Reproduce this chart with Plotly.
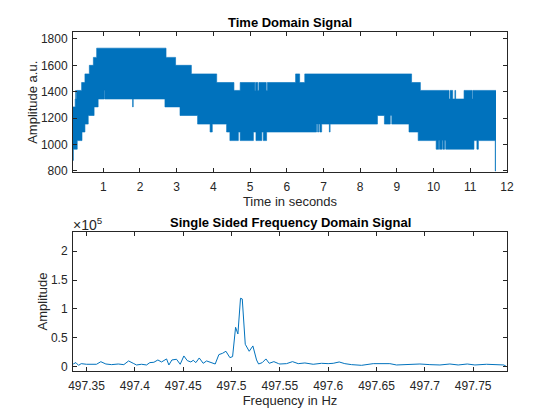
import plotly.graph_objects as go

# Time domain signal: upper and lower envelope of the dense trace (step edges)
upper_time = [0.175, 0.235, 0.25, 0.26, 0.275, 0.29, 0.41, 0.5, 0.62, 0.73, 0.82, 2.71, 2.97, 3.4, 4.09, 4.56, 4.73,
              5.13, 5.15, 5.21, 5.24, 5.44, 5.47, 6.24, 6.35, 6.49, 9.4, 9.64,
              10.42, 10.45, 10.52, 10.58, 10.6, 10.83, 11.05, 11.07, 11.68, 11.7]
upper_vals = [1285, 1345, 1410, 1345, 1410, 1410, 1470, 1535, 1600, 1660, 1730, 1660, 1600, 1535, 1470, 1410, 1470,
              1410, 1470, 1410, 1470, 1410, 1470, 1535, 1470, 1535, 1470, 1410,
              1345, 1410, 1345, 1410, 1345, 1410, 1345, 1410, 1410, 1410]
lower_time = [0.175, 0.185, 0.29, 0.42, 0.5, 0.59, 0.75, 0.86, 1.03, 1.045, 1.8, 1.815, 2.68, 2.71, 3.09, 3.57, 3.91, 3.97,
              4.36, 4.45, 4.68, 4.73, 5.09, 5.16, 5.32, 5.36, 5.45, 6.81, 6.84, 6.87, 6.9, 6.95, 6.97, 7.16, 7.18,
              8.47, 8.66, 8.82, 8.86, 9.33, 9.58, 10.05, 10.07, 10.14, 10.16, 10.23, 10.25, 10.3, 10.33, 10.37,
              11.1, 11.18, 11.22, 11.68, 11.695, 11.7]
lower_vals = [880, 965, 1030, 1095, 1155, 1220, 1285, 1345, 1410, 1345, 1285, 1345, 1285, 1285, 1220, 1155, 1095, 1155,
              1095, 1030, 1095, 1030, 1095, 1030, 1095, 1030, 1095, 1155, 1095, 1155, 1095, 1155, 1155, 1095, 1155,
              1220, 1155, 1220, 1155, 1095, 1030, 1030, 965, 1030, 965, 1030, 965, 1030, 965, 965,
              1030, 965, 1030, 800, 800, 800]

# Frequency domain signal
freq_hz = [497.3362, 497.339, 497.3417, 497.3445, 497.35, 497.3552, 497.3603, 497.3648, 497.37, 497.3759,
           497.3828, 497.3886, 497.3935, 497.3983, 497.4017, 497.4069, 497.4121, 497.4155, 497.4197, 497.4238,
           497.4276, 497.4328, 497.4352, 497.4383, 497.4431, 497.4469, 497.4507, 497.4542, 497.4579, 497.4604,
           497.4631, 497.4666, 497.4707, 497.4742, 497.479, 497.4831, 497.4869, 497.4907, 497.4942, 497.4983,
           497.5011, 497.5042, 497.5066, 497.5093, 497.5111, 497.5142, 497.5183, 497.5221, 497.5259, 497.528,
           497.5318, 497.5356, 497.539, 497.5438, 497.5487, 497.55, 497.5569, 497.5631, 497.569, 497.5759,
           497.5845, 497.5931, 497.6, 497.6052, 497.6114, 497.6172, 497.6242, 497.6345, 497.6466, 497.6552,
           497.6638, 497.6707, 497.6828, 497.6949, 497.7052, 497.7156, 497.7259, 497.7345, 497.7439, 497.7518,
           497.7638, 497.7742, 497.7818, 497.7846]
amp_1e5 = [0.04, 0.064, 0.017, 0.046, 0.035, 0.04, 0.035, 0.08, 0.04, 0.029,
           0.04, 0.029, 0.093, 0.052, 0.023, 0.035, 0.023, 0.064, 0.07, 0.11,
           0.075, 0.128, 0.023, 0.11, 0.122, 0.035, 0.18, 0.099, 0.075, 0.104,
           0.064, 0.145, 0.052, 0.093, 0.07, 0.04, 0.203, 0.226, 0.261, 0.151,
           0.168, 0.678, 0.562, 1.183, 1.171, 0.383, 0.261, 0.354, 0.11, 0.04,
           0.064, 0.128, 0.052, 0.081, 0.046, 0.04, 0.046, 0.081, 0.046, 0.058,
           0.035, 0.052, 0.046, 0.052, 0.075, 0.046, 0.029, 0.017, 0.046, 0.04,
           0.046, 0.023, 0.029, 0.04, 0.029, 0.023, 0.04, 0.023, 0.04, 0.023,
           0.035, 0.035, 0.023, -0.006]

time_ticks = [1, 2, 3, 4, 5, 6, 7, 8, 9, 10, 11, 12]
top_y_ticks = [800, 1000, 1200, 1400, 1600, 1800]
freq_ticks = [497.35, 497.4, 497.45, 497.5, 497.55, 497.6, 497.65, 497.7, 497.75]
freq_labels = ["497.35", "497.4", "497.45", "497.5", "497.55", "497.6", "497.65", "497.7", "497.75"]
amp_ticks = [0, 0.5, 1, 1.5, 2]
amp_labels = ["0", "0.5", "1", "1.5", "2"]

BLUE = "#0072BD"
INK = "#262626"
FONT = "Liberation Sans"
W, H = 560, 420
PAGE = 8  # the page's own body margin shifts the figure by this many pixels


def px(v):
    return (v - PAGE) / W


def py(v):
    return 1 - (v - PAGE) / H


fig = go.Figure()
fig.add_trace(go.Scatter(x=lower_time, y=lower_vals, mode="lines", line=dict(color=BLUE, width=0.6, shape="hv"),
                         xaxis="x", yaxis="y", hoverinfo="skip"))
fig.add_trace(go.Scatter(x=upper_time, y=upper_vals, mode="lines", line=dict(color=BLUE, width=0.6, shape="hv"),
                         fill="tonexty", fillcolor=BLUE, xaxis="x", yaxis="y", hoverinfo="skip"))
fig.add_trace(go.Scatter(x=freq_hz, y=amp_1e5, mode="lines", line=dict(color=BLUE, width=1),
                         xaxis="x2", yaxis="y2"))


def axis(**kw):
    base = dict(showgrid=False, zeroline=False, showline=True, linecolor=INK, linewidth=1, mirror="ticks",
                ticks="inside", ticklen=4, tickcolor=INK, tickwidth=1,
                tickfont=dict(family=FONT, size=12, color=INK), automargin=False)
    base.update(kw)
    return base


def label(text, size=13):
    return dict(text=text, font=dict(family=FONT, size=size, color=INK))


fig.update_layout(
    width=W, height=H, margin=dict(l=0, r=0, t=0, b=0), paper_bgcolor="white", plot_bgcolor="white",
    showlegend=False,
    xaxis=axis(domain=[px(73), px(507)], anchor="y", range=[0.175, 12], tickmode="array", tickvals=time_ticks,
               ticklabelstandoff=3, title={**label("Time in seconds"), "standoff": 4}),
    yaxis=axis(domain=[py(172.3), py(32.3)], anchor="x", range=[790, 1850], tickmode="array",
               tickvals=top_y_ticks, ticklabelstandoff=2, title={**label("Amplitude a.u."), "standoff": 0}),
    xaxis2=axis(domain=[px(73), px(507)], anchor="y2", range=[497.336, 497.785], tickmode="array",
                tickvals=freq_ticks, ticktext=freq_labels, ticklabelstandoff=3,
                title={**label("Frequency in Hz"), "standoff": 4}),
    yaxis2=axis(domain=[py(371.3), py(231.7)], anchor="x2", range=[-0.087, 2.34], tickmode="array",
                tickvals=amp_ticks, ticktext=amp_labels, ticklabelstandoff=2,
                title={**label("Amplitude"), "standoff": 0}),
    annotations=[
        dict(text="<b>Time Domain Signal</b>", x=px(290), y=py(22.5), xref="paper", yref="paper", showarrow=False,
             xanchor="center", yanchor="middle", font=dict(family=FONT, size=13, color="#000000")),
        dict(text="<b>Single Sided Frequency Domain Signal</b>", x=px(290), y=py(222), xref="paper", yref="paper",
             showarrow=False, xanchor="center", yanchor="middle", font=dict(family=FONT, size=13, color="#000000")),
        dict(text="×10<sup>5</sup>", x=px(73), y=py(224), xref="paper", yref="paper", showarrow=False,
             xanchor="left", yanchor="middle", xshift=-2, font=dict(family=FONT, size=14, color=INK)),
    ],
)

fig.write_html("out.html")
